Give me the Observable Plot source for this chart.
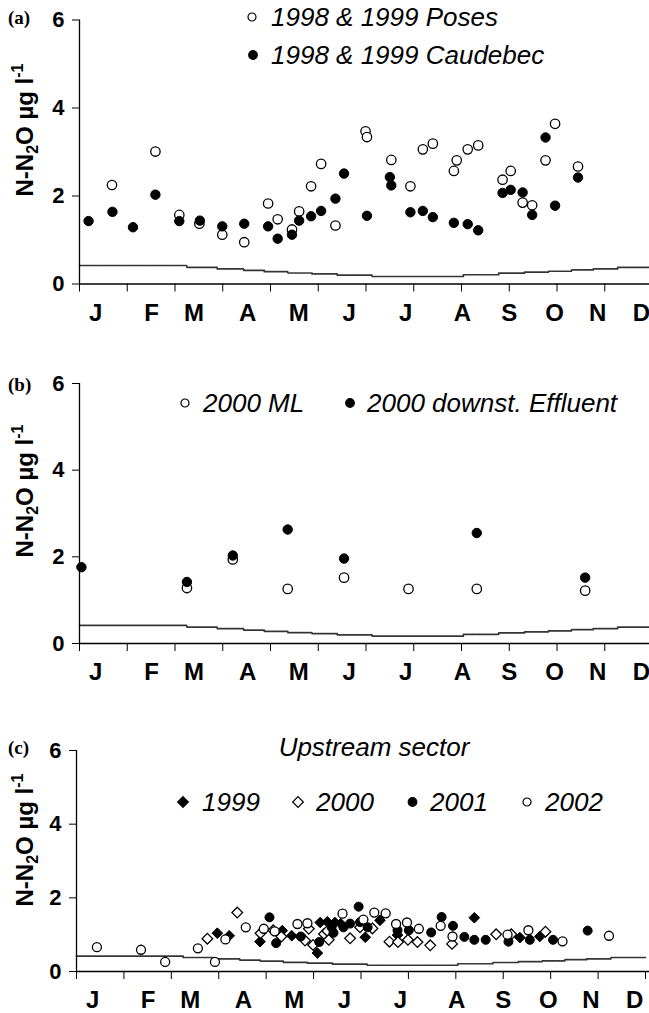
<!DOCTYPE html>
<html><head><meta charset="utf-8">
<script src="https://cdn.jsdelivr.net/npm/d3@7"></script>
<script src="https://cdn.jsdelivr.net/npm/@observablehq/plot@0.6"></script>
<style>
body{margin:0;background:#fff;}
#chart svg{display:block;}
</style></head><body><div id="chart"></div>
<script>
// ---- axis labels / ticks ----
const monthStarts = [0,1,2,3,4,5,6,7,8,9,10,11,12];
const monthLabels = ["J","F","M","A","M","J","J","A","S","O","N","D"];
const monthLabelPos = [0.34,1.51,2.40,3.52,4.59,5.65,6.83,8.02,9.0,9.95,10.85,11.77];
const yTicks = [0,2,4,6];

// ---- saturation (equilibrium) step line, month vs value ----
const satMonth = [0,2.25,2.88,3.44,3.87,4.36,4.87,5.4,6.13,8.04,8.78,9.32,9.82,10.3,10.76,11.27,12];
const satVal   = [0.42,0.38,0.345,0.31,0.28,0.25,0.23,0.2,0.17,0.21,0.245,0.27,0.29,0.32,0.345,0.38,0.38];

// ---- panel (a): [month, value] ----
const posesA = [[0.68,2.25],[1.59,3.01],[2.09,1.57],[2.51,1.37],[2.99,1.12],[3.45,0.95],[3.95,1.83],[4.15,1.47],[4.45,1.24],[4.60,1.65],[4.85,2.22],[5.06,2.73],[5.36,1.33],[5.99,3.47],[6.02,3.34],[6.53,2.82],[6.93,2.22],[7.19,3.06],[7.40,3.19],[7.84,2.57],[7.90,2.81],[8.13,3.06],[8.35,3.15],[8.86,2.37],[9.03,2.57],[9.28,1.85],[9.48,1.79],[9.76,2.81],[9.96,3.64],[10.44,2.67]];
const caudebecA = [[0.19,1.43],[0.69,1.64],[1.12,1.29],[1.59,2.03],[2.09,1.43],[2.52,1.44],[2.99,1.31],[3.45,1.37],[3.95,1.31],[4.15,1.03],[4.45,1.12],[4.60,1.44],[4.85,1.54],[5.06,1.66],[5.36,1.94],[5.54,2.51],[6.02,1.55],[6.50,2.43],[6.53,2.24],[6.93,1.63],[7.19,1.66],[7.40,1.52],[7.84,1.39],[8.13,1.36],[8.35,1.22],[8.86,2.07],[9.03,2.14],[9.28,2.08],[9.48,1.57],[9.76,3.33],[9.96,1.78],[10.44,2.42]];

// ---- panel (b) ----
const mlB = [[2.25,1.28],[3.21,1.94],[4.36,1.26],[5.54,1.52],[6.89,1.26],[8.32,1.26],[10.59,1.22]];
const effluentB = [[0.04,1.76],[2.25,1.42],[3.21,2.03],[4.36,2.63],[5.54,1.96],[8.32,2.55],[10.59,1.52]];

// ---- panel (c) ----
const up1999 = [[2.97,1.04],[3.22,0.97],[3.87,0.81],[4.34,1.11],[4.54,0.97],[5.08,0.5],[5.14,1.33],[5.29,1.35],[5.45,1.33],[5.57,1.3],[6.09,0.93],[6.40,1.39],[6.77,0.99],[8.39,1.46],[9.35,0.92],[9.77,0.95]];
const up2000 = [[2.76,0.89],[3.39,1.6],[3.88,1.04],[4.15,1.12],[4.32,0.95],[4.82,0.84],[4.90,1.16],[4.99,0.72],[5.22,1.02],[5.29,1.1],[5.32,0.86],[5.77,0.9],[5.98,1.2],[6.24,1.17],[6.60,0.81],[6.78,0.8],[6.99,0.86],[7.19,0.8],[7.46,0.71],[7.92,0.75],[8.85,1.01],[9.17,1.01],[9.89,1.08]];
const up2001 = [[4.07,1.47],[4.21,0.77],[4.73,0.95],[5.12,0.8],[5.38,1.2],[5.42,1.05],[5.63,1.2],[5.77,1.3],[5.95,1.76],[5.98,1.34],[6.14,1.2],[6.77,1.12],[7.01,1.12],[7.48,1.06],[7.70,1.48],[7.94,1.24],[8.18,0.94],[8.39,0.86],[8.63,0.86],[9.11,0.81],[9.56,0.86],[10.05,0.86],[10.78,1.11]];
const up2002 = [[0.43,0.66],[1.36,0.59],[1.87,0.26],[2.56,0.63],[2.92,0.26],[3.14,0.87],[3.57,1.2],[3.95,1.16],[4.18,1.09],[4.66,1.29],[4.87,1.31],[5.61,1.57],[6.05,1.41],[6.28,1.6],[6.52,1.58],[6.74,1.29],[6.97,1.33],[7.22,1.16],[7.68,1.24],[7.93,0.95],[9.09,1.0],[9.53,1.12],[10.25,0.82],[11.23,0.97]];

const rows = pairs => pairs.map(([m, v]) => ({m, v}));
const sat = satMonth.map((m, i) => ({m, v: satVal[i]}));

const SANS = "'Liberation Sans', Arial, Helvetica, sans-serif";
const SERIF = "'Liberation Serif', 'Times New Roman', serif";

function openDot(data, symbol, r) {
  return Plot.dot(rows(data), {x: "m", y: "v", r, symbol, fill: "#fff", stroke: "#000", strokeWidth: 1.3});
}
function fillDot(data, symbol, r) {
  return Plot.dot(rows(data), {x: "m", y: "v", r, symbol, fill: "#000", stroke: "#000", strokeWidth: 1});
}

function panel({height, top, bottom, left, xRange, marks}) {
  const svg = Plot.plot({
    width: 649, height,
    marginTop: top, marginBottom: bottom, marginLeft: left, marginRight: 0,
    style: {fontFamily: SANS, fontSize: "22px", fontWeight: "bold", color: "#000", background: "#fff", overflow: "visible"},
    x: {domain: [0, 12], range: xRange, ticks: monthStarts, tickFormat: () => "", tickSize: 8, label: null},
    y: {domain: [0, 6], ticks: yTicks, tickFormat: d => String(d), tickSize: 7, tickPadding: 8, label: null},
    marks: [
      Plot.line(sat, {x: "m", y: "v", curve: "step-after", stroke: "#333", strokeWidth: 1.7, strokeDasharray: "2,1"}),
      Plot.ruleX([0], {stroke: "#000", strokeWidth: 1.3}),
      Plot.ruleY([0], {stroke: "#000", strokeWidth: 1.3}),
      Plot.text(monthLabelPos, {x: d => d, text: (d, i) => monthLabels[i], frameAnchor: "bottom", dy: 29,
        fontSize: 24, fontWeight: "bold", lineAnchor: "middle", fill: "#000"}),
      ...marks
    ]
  });
  d3.select(svg).selectAll('g[aria-label^="y-axis"] text')
    .style("font-weight", "bold").style("font-size", "22px").style("font-family", SANS);
  return svg;
}

function decorate(svg, {letter, letterY, titleY, legend, extra}) {
  const g = d3.select(svg).append("g").attr("text-anchor", "start");
  g.append("text").attr("x", 8).attr("y", letterY).attr("dy", "0.35em").attr("text-anchor", "start")
    .attr("font-family", SERIF).attr("font-size", 19).attr("font-weight", "bold").text(letter);
  const t = g.append("text").attr("transform", `translate(25,${titleY}) rotate(-90)`)
    .attr("text-anchor", "middle").attr("dy", "0.35em")
    .attr("font-family", SANS).attr("font-size", 24).attr("font-weight", "bold");
  t.append("tspan").text("N-N");
  t.append("tspan").attr("font-size", 16).attr("dy", 5).text("2");
  t.append("tspan").attr("dy", -5).text("O µg l");
  t.append("tspan").attr("font-size", 16).attr("dy", -10).text("-1");
  for (const it of legend) {
    const size = Math.PI * it.r * it.r;
    const sym = it.symbol === "diamond" ? d3.symbolDiamond2 : d3.symbolCircle;
    g.append("path").attr("d", d3.symbol(sym, size)())
      .attr("transform", `translate(${it.sx},${it.y})`)
      .attr("fill", it.filled ? "#000" : "#fff").attr("stroke", "#000").attr("stroke-width", 1.2);
    g.append("text").attr("x", it.tx).attr("y", it.y).attr("dy", "0.35em").attr("text-anchor", "start")
      .attr("font-family", SANS).attr("font-size", 26).attr("font-style", "italic").attr("font-weight", "normal")
      .text(it.label);
  }
  if (extra) extra(g);
}

const chart = document.getElementById("chart");

// panel (a)
const svgA = panel({height: 330, top: 19.5, bottom: 46.5, left: 79, xRange: [79, 652], marks: [
  openDot(posesA, "circle", 4.7),
  fillDot(caudebecA, "circle", 4.7)
]});
decorate(svgA, {letter: "(a)", letterY: 17, titleY: 130, legend: [
  {symbol: "circle", r: 4, filled: false, sx: 252, tx: 271, y: 17, label: "1998 & 1999 Poses"},
  {symbol: "circle", r: 4.3, filled: true, sx: 253, tx: 271, y: 55, label: "1998 & 1999 Caudebec"}
]});
chart.appendChild(svgA);

// panel (b)
const svgB = panel({height: 360, top: 53, bottom: 47, left: 79, xRange: [79, 652], marks: [
  openDot(mlB, "circle", 4.7),
  fillDot(effluentB, "circle", 4.7)
]});
decorate(svgB, {letter: "(b)", letterY: 54, titleY: 161, legend: [
  {symbol: "circle", r: 4, filled: false, sx: 185, tx: 203, y: 73, label: "2000 ML"},
  {symbol: "circle", r: 4.3, filled: true, sx: 350, tx: 367, y: 73, label: "2000 downst. Effluent"}
]});
chart.appendChild(svgB);

// panel (c)
const svgC = panel({height: 323, top: 60, bottom: 42, left: 76, xRange: [76, 645], marks: [
  fillDot(up1999, "diamond2", 4.8),
  openDot(up2000, "diamond2", 4.8),
  fillDot(up2001, "circle", 4.5),
  openDot(up2002, "circle", 4.5)
]});
decorate(svgC, {letter: "(c)", letterY: 57, titleY: 150, legend: [
  {symbol: "diamond", r: 4.8, filled: true, sx: 183, tx: 202, y: 112, label: "1999"},
  {symbol: "diamond", r: 4.8, filled: false, sx: 298, tx: 316, y: 112, label: "2000"},
  {symbol: "circle", r: 4.3, filled: true, sx: 412.5, tx: 430, y: 112, label: "2001"},
  {symbol: "circle", r: 4, filled: false, sx: 527, tx: 545, y: 112, label: "2002"}
], extra: g => {
  g.append("text").attr("x", 374).attr("y", 57).attr("dy", "0.35em").attr("text-anchor", "middle")
    .attr("font-family", SANS).attr("font-size", 26).attr("font-style", "italic").attr("font-weight", "normal")
    .text("Upstream sector");
}});
chart.appendChild(svgC);
</script>
</body></html>
